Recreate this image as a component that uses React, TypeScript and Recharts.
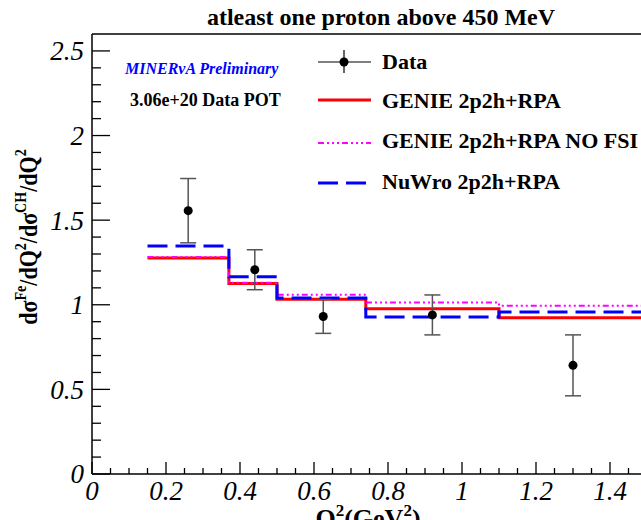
import React from 'react';
import { ComposedChart, Line, Scatter, ErrorBar, XAxis, YAxis, ReferenceLine } from 'recharts';

// Q2 bin edges (GeV^2) and ratio values per bin
const binEdges = [0.15, 0.37, 0.5, 0.74, 1.1, 1.5];
const genie = [1.276, 1.126, 1.032, 0.976, 0.923];
const genieNoFsi = [1.282, 1.13, 1.059, 1.013, 0.994];
const nuwro = [1.347, 1.165, 1.04, 0.928, 0.958];

// Data points
const dataQ2 = [0.26, 0.44, 0.625, 0.92, 1.3];
const dataRatio = [1.556, 1.207, 0.931, 0.94, 0.642];
const dataErr = [0.19, 0.118, 0.1, 0.118, 0.18];

const yMajorTicks = [0, 0.5, 1, 1.5, 2, 2.5];
const xMajorTicks = [0, 0.2, 0.4, 0.6, 0.8, 1, 1.2, 1.4];

const FONT = '"Liberation Serif", "Times New Roman", serif';
const TICK_MARGIN = 6;

const yTicks = Array.from({ length: 26 }, (_, i) => +(i * 0.1).toFixed(2));
const xTicks = Array.from({ length: 31 }, (_, i) => +(i * 0.05).toFixed(2));

const isMajor = (v: number, majors: number[]) => majors.some((m) => Math.abs(m - v) < 1e-6);

const toSteps = (vals: number[]) =>
  binEdges.map((x, i) => ({ x, y: vals[Math.min(i, vals.length - 1)] }));

const points = dataQ2.map((x, i) => ({ x, y: dataRatio[i], err: dataErr[i] }));

const YTick = (props: any) => {
  const { x, y, payload } = props;
  const axisX = x + TICK_MARGIN;
  const major = isMajor(payload.value, yMajorTicks);
  return (
    <g>
      <line x1={axisX} x2={axisX + (major ? 18 : 9)} y1={y} y2={y} stroke="#000" strokeWidth={1.3} />
      {major && (
        <text x={axisX - 8} y={y} dy="0.35em" textAnchor="end" fontFamily={FONT} fontStyle="italic" fontSize={27} fill="#000">
          {String(payload.value)}
        </text>
      )}
    </g>
  );
};

const XTick = (props: any) => {
  const { x, y, payload } = props;
  const axisY = y - TICK_MARGIN;
  const major = isMajor(payload.value, xMajorTicks);
  return (
    <g>
      <line x1={x} x2={x} y1={axisY} y2={axisY - (major ? 12 : 6)} stroke="#000" strokeWidth={1.3} />
      {major && (
        <text x={x} y={axisY + 26} textAnchor="middle" fontFamily={FONT} fontStyle="italic" fontSize={27} fill="#000">
          {String(payload.value)}
        </text>
      )}
    </g>
  );
};

const Dot = (props: any) => <circle cx={props.cx} cy={props.cy} r={4.5} fill="#000" />;

const Overlay = () => (
  <svg width={641} height={520} style={{ position: 'absolute', left: 0, top: 0, pointerEvents: 'none' }}>
    <text x={381} y={25} textAnchor="middle" fontFamily={FONT} fontWeight="bold" fontSize={24}>
      atleast one proton above 450 MeV
    </text>
    <text x={125} y={74} fontFamily={FONT} fontWeight="bold" fontStyle="italic" fontSize={16} fill="#0000ff">
      MINERνA Preliminary
    </text>
    <text x={130} y={106} fontFamily={FONT} fontWeight="bold" fontSize={18}>
      3.06e+20 Data POT
    </text>

    {/* legend */}
    <line x1={318} x2={371} y1={62} y2={62} stroke="#000" strokeWidth={1.2} />
    <line x1={344} x2={344} y1={50} y2={73} stroke="#000" strokeWidth={1.2} />
    <circle cx={344} cy={62} r={4.5} fill="#000" />
    <text x={382} y={69} fontFamily={FONT} fontWeight="bold" fontSize={22}>Data</text>

    <line x1={318} x2={371} y1={100} y2={100} stroke="#ff0000" strokeWidth={3} />
    <text x={382} y={108} fontFamily={FONT} fontWeight="bold" fontSize={22}>GENIE 2p2h+RPA</text>

    <line x1={318} x2={371} y1={143} y2={143} stroke="#ff00ff" strokeWidth={2} strokeDasharray="6 3 2 3 2 3 2 3" />
    <text x={382} y={148} fontFamily={FONT} fontWeight="bold" fontSize={22}>GENIE 2p2h+RPA NO FSI</text>

    <line x1={318} x2={371} y1={183} y2={183} stroke="#0000ff" strokeWidth={3} strokeDasharray="20 8" />
    <text x={382} y={189} fontFamily={FONT} fontWeight="bold" fontSize={22}>NuWro 2p2h+RPA</text>

    {/* axis titles */}
    <g transform="translate(37 237) rotate(-90) scale(0.88 1)">
      <text x={0} y={0} textAnchor="middle" fontFamily={FONT} fontWeight="bold" fontSize={25}>
        dσ<tspan fontSize={16} dy={-11}>Fe</tspan>
        <tspan dy={11}>/dQ</tspan>
        <tspan fontSize={16} dy={-11}>2</tspan>
        <tspan dy={11}>/dσ</tspan>
        <tspan fontSize={16} dy={-11}>CH</tspan>
        <tspan dy={11}>/dQ</tspan>
        <tspan fontSize={16} dy={-11}>2</tspan>
      </text>
    </g>
    <text x={368} y={527} textAnchor="middle" fontFamily={FONT} fontWeight="bold" fontSize={26}>
      Q<tspan fontSize={17} dy={-11}>2</tspan>
      <tspan dy={11}>(GeV</tspan>
      <tspan fontSize={17} dy={-11}>2</tspan>
      <tspan dy={11}>)</tspan>
    </text>
  </svg>
);

export default function App() {
  return (
    <div style={{ position: 'absolute', left: 0, top: 0, width: 641, height: 520, overflow: 'hidden', background: '#fff' }}>
      <ComposedChart width={660} height={520} margin={{ top: 34, left: 32, right: 13, bottom: 16 }}>
        <XAxis
          dataKey="x"
          type="number"
          domain={[0, 1.5]}
          ticks={xTicks}
          interval={0}
          tickSize={0}
          tickMargin={TICK_MARGIN}
          tick={<XTick />}
          axisLine={{ stroke: '#000', strokeWidth: 1.5 }}
          height={30}
          allowDataOverflow
        />
        <YAxis
          dataKey="y"
          type="number"
          domain={[0, 2.6]}
          ticks={yTicks}
          interval={0}
          tickSize={0}
          tickMargin={TICK_MARGIN}
          tick={<YTick />}
          axisLine={{ stroke: '#000', strokeWidth: 1.5 }}
          width={60}
          allowDataOverflow
        />
        <ReferenceLine y={2.6} stroke="#000" strokeWidth={1.5} />
        <Line data={toSteps(genie)} dataKey="y" type="stepAfter" stroke="#ff0000" strokeWidth={3} dot={false} isAnimationActive={false} />
        <Line data={toSteps(genieNoFsi)} dataKey="y" type="stepAfter" stroke="#ff00ff" strokeWidth={2} strokeDasharray="6 3 2 3 2 3 2 3" dot={false} isAnimationActive={false} />
        <Line data={toSteps(nuwro)} dataKey="y" type="stepAfter" stroke="#0000ff" strokeWidth={3} strokeDasharray="20 8" dot={false} isAnimationActive={false} />
        <Scatter data={points} dataKey="y" shape={<Dot />} isAnimationActive={false}>
          <ErrorBar dataKey="err" direction="y" width={8} stroke="#555" strokeWidth={1.5} />
        </Scatter>
      </ComposedChart>
      <Overlay />
    </div>
  );
}
